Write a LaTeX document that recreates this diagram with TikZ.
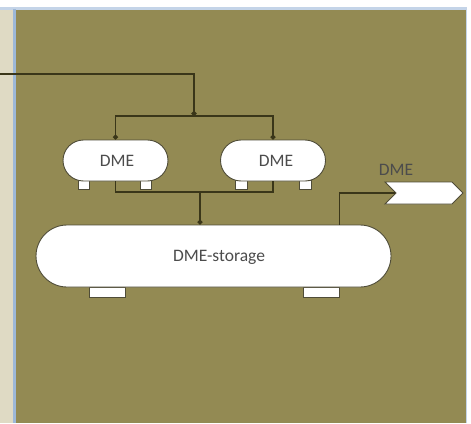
\documentclass[tikz,border=0pt]{standalone}
\usepackage{fontspec}
\setmainfont{Carlito}
\usepackage{tikz}
\usetikzlibrary{arrows.meta,shapes.misc,shapes.symbols}

\definecolor{panelolive}{HTML}{938A53}
\definecolor{panelbeige}{HTML}{DFDAC4}
\definecolor{panelblue}{HTML}{9DB8D8}
\definecolor{pipedark}{HTML}{3A3619}

\tikzset{
	tank/.style={rounded rectangle, draw=pipedark!70!gray, line width=0.9pt, fill=white, inner sep=0pt},
	foot/.style={rectangle, draw=pipedark!70!gray, line width=0.9pt, fill=white, inner sep=0pt},
	pipe/.style={draw=pipedark, line width=1.4pt},
	tagtext/.style={text=black!70, inner sep=0pt}
}

\begin{document}
\begin{tikzpicture}[x=1pt, y=-1pt, font=\fontsize{17.5}{19}\selectfont]

	\useasboundingbox (0,0) rectangle (471,423);
	\fill[white] (0,0) rectangle (471,423);
	\fill[panelblue!60] (0,7) rectangle (467,423);
	\fill[panelbeige] (0,10) rectangle (13,423);
	\fill[panelblue] (13,9) rectangle (16,423);
	\fill[panelolive] (16,10) rectangle (466,423);


	\node[foot, minimum width=11pt, minimum height=9pt] (foota) at (84,185) {};
	\node[foot, minimum width=11pt, minimum height=9pt] (footb) at (146,185) {};
	\node[foot, minimum width=12pt, minimum height=9pt] (footc) at (241,185) {};
	\node[foot, minimum width=12pt, minimum height=9pt] (footd) at (305,185) {};
	\node[foot, minimum width=36pt, minimum height=10pt] (foote) at (107,292) {};
	\node[foot, minimum width=36pt, minimum height=10pt] (footf) at (321,292) {};

	\node[tank, minimum width=105pt, minimum height=41pt] (dmeleft) at (115.5,160.5) {};
	\node[tank, minimum width=105pt, minimum height=41pt] (dmeright) at (273,160.5) {};
	\node[tank, minimum width=355pt, minimum height=62pt] (storage) at (213.5,256) {};
	\node[signal, signal from=west, signal to=east, draw=pipedark!70!gray, line width=0.9pt, fill=white, minimum width=78pt, minimum height=22pt, inner sep=0pt] (outlet) at (424,193) {};

	\node[tagtext] (dmeleftlabel) at (117,161) {DME};
	\node[tagtext] (dmerightlabel) at (276,161) {DME};
	\node[tagtext] (storagelabel) at (219,257) {DME-storage};
	\node[tagtext] (outletlabel) at (396,170) {DME};


	\coordinate (feed) at (0,74);
	\coordinate (junction) at (194,116);
	\coordinate (collect) at (200,192);

	\draw[pipe, -{Circle[length=5pt]}] (feed) -- (junction |- feed) -- (junction);
	\draw[pipe, -{Circle[length=5pt]}] (junction) -| (dmeleft.north);
	\draw[pipe, -{Circle[length=5pt]}] (junction) -| (dmeright.north);
	\draw[pipe] (dmeleft.south) |- (collect) -| (dmeright.south);
	\draw[pipe, -{Circle[length=5pt]}] (collect) -- (collect |- storage.north);
	\draw[pipe] (footf.east |- storage.north) |- (outlet.west);

\end{tikzpicture}
\end{document}
